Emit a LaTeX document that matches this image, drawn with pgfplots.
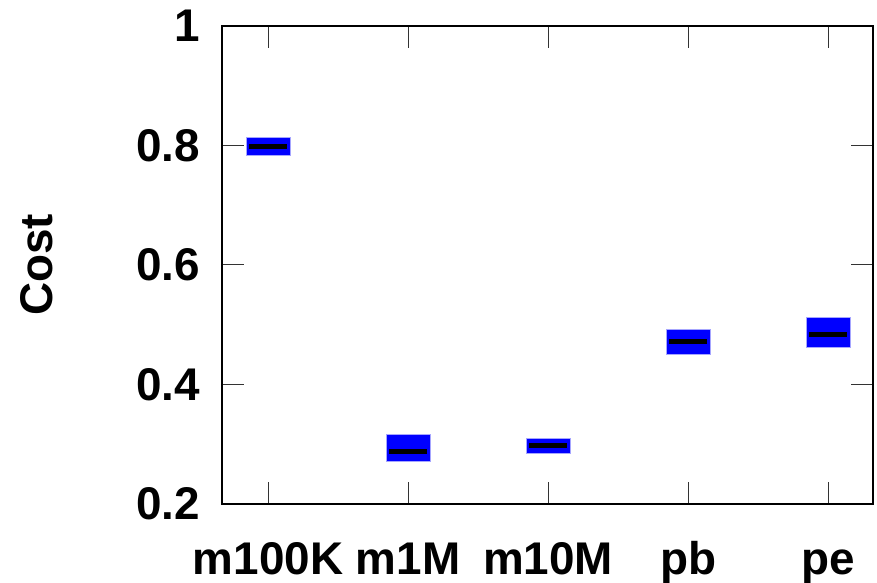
\documentclass[border=0pt]{standalone}
\usepackage{fontspec}
\setmainfont{Liberation Sans}
\usepackage{pgfplots}
\pgfplotsset{compat=1.18}
\usepgfplotslibrary{statistics}

\newcommand{\bigbold}{\bfseries\fontsize{46}{50}\selectfont}

\begin{document}
\begin{tikzpicture}
\begin{axis}[
    scale only axis,
    width=651bp, height=478bp,
    xmin=0.671, xmax=5.32,
    ymin=0.2, ymax=1,
    xtick={1,2,3,4,5},
    xticklabels={m100K,m1M,m10M,pb,pe},
    ytick={0.2,0.4,0.6,0.8,1},
    yticklabels={0.2,0.4,0.6,0.8,1},
    tick align=inside, tick pos=both,
    major tick length=22bp,
    tick style={black!80, line width=1bp},
    axis line style={line width=1.6bp},
    ylabel={Cost},
    every axis y label/.style={at={(rel axis cs:-0.284,0.5)}, rotate=90, anchor=center, inner sep=0pt, font=\bigbold},
    yticklabel style={anchor=east, inner sep=0pt, xshift=-22bp, font=\bigbold},
    xticklabel style={anchor=north, inner sep=0pt, yshift=-36bp, text height=34bp, text depth=8bp, font=\bigbold},
    boxplot/draw direction=y,
    boxplot/box extend=0.314,
    boxplot/whisker extend=0.314,
    boxplot/every median/.style={draw=black, line width=5bp, shorten <=3bp, shorten >=3bp},
    boxplot/every whisker/.style={draw=blue!35!white, line width=1bp},
    clip=false,
]
\addplot[fill=blue, draw=blue!35!white, line width=1bp, boxplot prepared={
    lower whisker=0.7831, lower quartile=0.7831, median=0.799,
    upper quartile=0.8138, upper whisker=0.8138, draw position=1}] coordinates {};
\addplot[fill=blue, draw=blue!35!white, line width=1bp, boxplot prepared={
    lower whisker=0.2708, lower quartile=0.2708, median=0.288,
    upper quartile=0.3159, upper whisker=0.3004, draw position=2}] coordinates {};
\addplot[fill=blue, draw=blue!35!white, line width=1bp, boxplot prepared={
    lower whisker=0.2853, lower quartile=0.2853, median=0.298,
    upper quartile=0.3104, upper whisker=0.3104, draw position=3}] coordinates {};
\addplot[fill=blue, draw=blue!35!white, line width=1bp, boxplot prepared={
    lower whisker=0.4498, lower quartile=0.4498, median=0.4716,
    upper quartile=0.4916, upper whisker=0.4916, draw position=4}] coordinates {};
\addplot[fill=blue, draw=blue!35!white, line width=1bp, boxplot prepared={
    lower whisker=0.4760, lower quartile=0.4620, median=0.4832,
    upper quartile=0.5128, upper whisker=0.4977, draw position=5}] coordinates {};
\coordinate (sw) at (rel axis cs:0,0);
\coordinate (ne) at (rel axis cs:1,1);
\end{axis}
\path ([shift={(-222bp,-77.7bp)}]sw) rectangle ([shift={(4bp,26bp)}]ne);
\end{tikzpicture}
\end{document}
